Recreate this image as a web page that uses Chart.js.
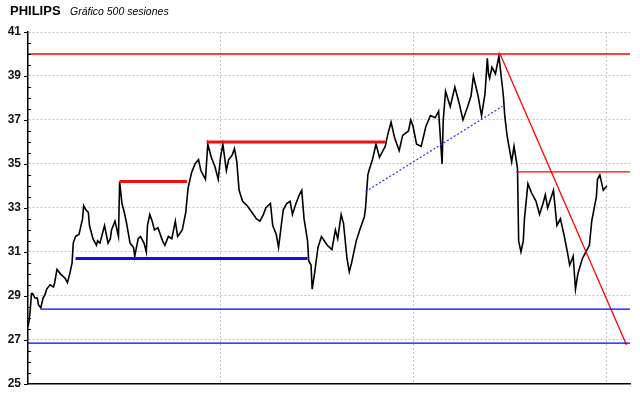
<!DOCTYPE html>
<html>
<head>
<meta charset="utf-8">
<title>PHILIPS - Gráfico 500 sesiones</title>
<script src="https://cdn.jsdelivr.net/npm/chart.js@4.4.1/dist/chart.umd.min.js"></script>
<style>
  html, body { margin: 0; padding: 0; background: #fff; }
  #wrap { position: relative; width: 640px; height: 398px; }
  #title { position: absolute; left: 10px; top: 3px; font: bold 13px "Liberation Sans", Arial, sans-serif; color: #000; }
  #subtitle { position: absolute; left: 70px; top: 5px; font: italic 10.5px "Liberation Sans", Arial, sans-serif; color: #000; }
</style>
</head>
<body>
<div id="wrap">
  <canvas id="priceChart" width="640" height="398"></canvas>
  <div id="title">PHILIPS</div>
  <div id="subtitle">Gráfico 500 sesiones</div>
</div>
<script>
// session index (0..499) and closing price
const sessions = [0, 1, 2, 3, 4, 6, 8, 9, 11, 13, 15, 16, 19, 22, 23, 25, 28, 30, 32, 34, 36, 38, 39, 41, 44, 47, 48, 50, 52, 53, 56, 59, 60, 62, 66, 69, 71, 72, 75, 78,
  79, 81, 83, 85, 88, 91, 92, 95, 97, 100, 101, 102, 103, 105, 107, 109, 112, 116, 118, 121, 124, 127, 129, 133, 136, 138, 141, 144, 147, 149,
  153, 155, 158, 161, 164, 166, 168, 171, 173, 176, 178, 180, 182, 185, 189, 193, 197, 200, 203, 205, 209, 211, 214, 216, 220, 223, 226, 228, 231, 234,
  236, 238, 241, 242, 244, 245, 247, 250, 253, 258, 262, 265, 267, 270, 272, 275, 277, 279, 283, 286, 290, 291, 293, 294, 297, 300, 303, 308, 310, 313,
  316, 320, 323, 328, 330, 332, 335, 339, 343, 347, 351, 354, 357, 358, 360, 364, 368, 372, 375, 379, 382, 384, 388, 391, 394, 396, 397, 398, 400, 403,
  406, 409, 410, 411, 413, 415, 417, 419, 422, 423, 425, 427, 428, 431, 434, 438, 441, 444, 446, 448, 453, 456, 459, 462, 465, 467, 470, 472, 474, 478,
  481, 484, 486, 490, 491, 493, 496, 499];
const closes = [27.6, 27.9, 28.4, 29.1, 29.1, 28.9, 28.9, 28.6, 28.45, 28.9, 29.1, 29.3, 29.5, 29.4, 29.6, 30.2, 30.0, 29.9, 29.8, 29.6, 30.0, 30.5, 31.4, 31.7, 31.8, 32.5, 33.1, 32.9, 32.8, 32.2, 31.6, 31.3, 31.5, 31.4, 32.2, 31.4, 31.6, 32.0, 32.4, 31.7,
  34.2, 33.2, 32.8, 32.3, 31.4, 31.2, 30.8, 31.6, 31.7, 31.4, 31.2, 31.0, 32.2, 32.7, 32.4, 32.0, 32.1, 31.5, 31.3, 31.7, 31.6, 32.4, 31.7, 32.0, 32.8, 33.9, 34.6, 35.0, 35.2, 34.7,
  34.3, 35.9, 35.3, 34.9, 34.3, 35.3, 35.9, 34.7, 35.2, 35.4, 35.7, 35.1, 33.8, 33.3, 33.1, 32.8, 32.5, 32.4, 32.7, 33.0, 33.2, 32.2, 31.8, 31.2, 32.9, 33.2, 33.3, 32.7, 33.2, 33.6,
  33.8, 32.5, 31.5, 30.6, 30.4, 29.3, 30.0, 31.2, 31.7, 31.3, 31.1, 32.0, 31.6, 32.7, 32.3, 30.7, 30.1, 30.5, 31.5, 32.0, 32.6, 33.0, 34.5, 34.7, 35.2, 35.9, 35.3, 35.8, 36.3, 36.9,
  36.2, 35.6, 36.3, 36.5, 37.0, 36.7, 35.9, 35.8, 36.7, 37.2, 37.1, 37.4, 35.0, 37.0, 38.3, 37.6, 38.5, 37.7, 37.0, 37.6, 38.1, 39.0, 38.1, 37.2, 38.2, 39.8, 39.1, 38.9, 39.4, 39.1,
  39.9, 38.5, 38.0, 37.2, 36.3, 35.7, 35.1, 35.8, 34.8, 31.5, 31.0, 31.5, 32.5, 34.1, 33.7, 33.3, 32.7, 33.2, 33.6, 33.0, 33.8, 32.2, 32.5, 31.8, 31.0, 30.4, 30.8, 29.3, 30.0, 30.7,
  31.0, 31.3, 32.4, 33.5, 34.3, 34.5, 33.8, 34.0];

// horizontal support / resistance levels: price, first session, last session
const hLevels = [40.0, 28.4, 26.85, 30.7, 34.2, 36.0, 34.64];
const hFrom = [0, 11, 0, 41, 79, 154, 421];
const hTo = [519, 519, 519, 241, 137, 308, 519];
const hKind = ["red", "blue", "blue", "blueThick", "redThick", "redThick", "red"];

// trend lines: [session, price] start and end
const trendStart = [[291, 33.74], [407, 40.0]];
const trendEnd = [[409, 37.62], [516, 26.76]];
const trendKind = ["blueDash", "red"];

const gridSessions = [166, 332, 499];
const yMin = 25, yMax = 41;

const lineStyles = {
  red: { borderColor: "#ff0000", borderWidth: 1.3 },
  blue: { borderColor: "#0000ff", borderWidth: 1.3 },
  redThick: { borderColor: "#f01010", borderWidth: 3 },
  blueThick: { borderColor: "#1010e8", borderWidth: 3 },
  blueDash: { borderColor: "#2a2aff", borderWidth: 1.2, borderDash: [2, 2] },
};

const datasets = [];
hLevels.forEach((lvl, i) => {
  datasets.push({
    data: [{ x: hFrom[i], y: lvl }, { x: hTo[i], y: lvl }],
    ...lineStyles[hKind[i]],
    pointRadius: 0,
    order: 0,
  });
});
trendStart.forEach((s, i) => {
  datasets.push({
    data: [{ x: s[0], y: s[1] }, { x: trendEnd[i][0], y: trendEnd[i][1] }],
    ...lineStyles[trendKind[i]],
    pointRadius: 0,
    order: 0,
  });
});
datasets.push({
  label: "PHILIPS",
  data: sessions.map((s, i) => ({ x: s, y: closes[i] })),
  borderColor: "#000",
  borderWidth: 1.6,
  pointRadius: 0,
  tension: 0,
  order: 1,
});

// small tick marks on the price axis
const axisTicks = {
  id: "axisTicks",
  afterDraw(chart) {
    const { ctx } = chart;
    const y = chart.scales.y;
    const left = chart.chartArea.left;
    ctx.save();
    ctx.strokeStyle = "#000";
    ctx.lineWidth = 1;
    y.ticks.forEach((t) => {
      const py = Math.round(y.getPixelForValue(t.value)) + 0.5;
      const major = t.value % 2 === 1;
      ctx.beginPath();
      ctx.moveTo(major ? left - 4 : left, py);
      ctx.lineTo(major ? left : left + 3, py);
      ctx.stroke();
    });
    ctx.restore();
  },
};

const ctx = document.getElementById("priceChart").getContext("2d");
new Chart(ctx, {
  type: "line",
  data: { datasets },
  plugins: [axisTicks],
  options: {
    responsive: false,
    animation: false,
    layout: { padding: { left: 0, top: 32, right: 10, bottom: 11 } },
    plugins: { legend: { display: false }, tooltip: { enabled: false } },
    scales: {
      x: {
        type: "linear",
        min: 0,
        max: 519,
        afterBuildTicks: (scale) => { scale.ticks = gridSessions.map((v) => ({ value: v })); },
        ticks: { display: false },
        grid: { color: "#c4c4c4", drawTicks: false },
        border: { color: "#000", width: 1.5, dash: [2, 2] },
        afterFit: (scale) => { scale.height = 0; },
      },
      y: {
        min: yMin,
        max: yMax,
        ticks: {
          stepSize: 0.5,
          autoSkip: false,
          padding: 7,
          color: "#111",
          font: { family: "'Liberation Sans', Arial, sans-serif", size: 12, weight: "bold" },
          callback: (v) => (v % 2 === 1 ? String(v) : ""),
        },
        grid: {
          drawTicks: false,
          color: (c) => (c.tick && c.tick.value % 2 === 1 ? "#c4c4c4" : "rgba(0,0,0,0)"),
        },
        border: { color: "#000", width: 1.5, dash: [2, 2] },
        afterFit: (scale) => { scale.width = 28; },
      },
    },
  },
});
</script>
</body>
</html>
